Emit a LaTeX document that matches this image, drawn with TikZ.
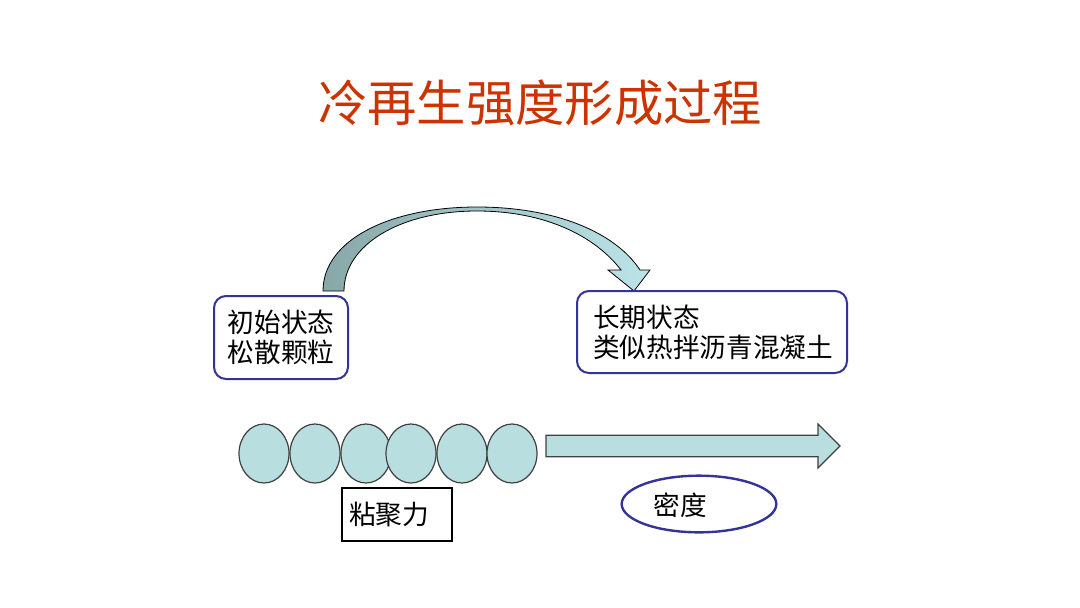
\documentclass[tikz,border=0pt]{standalone}
\usepackage{fontspec}
\setmainfont{Noto Sans CJK SC}
\usetikzlibrary{shapes.geometric,calc}

\definecolor{titlered}{RGB}{204,51,0}
\definecolor{boxblue}{RGB}{51,51,153}
\definecolor{beadfill}{RGB}{184,222,224}
\definecolor{beadline}{RGB}{64,64,64}
\definecolor{arcdark}{RGB}{136,168,168}
\definecolor{arclight}{RGB}{188,228,232}

\tikzset{every picture/.style={line width=0.75pt}}
\tikzset{
  statebox/.style={draw=boxblue, line width=1.5pt, rounded corners=9pt, fill=white,
    font=\fontsize{20}{22.5}\selectfont, align=left, inner sep=0pt},
  bead/.style={ellipse, draw=beadline, fill=beadfill, line width=0.9pt,
    minimum width=37.5pt, minimum height=44.25pt, inner sep=0pt},
  cohbox/.style={draw=black, line width=1.1pt, font=\fontsize{20}{22.5}\selectfont,
    text width=72pt, inner xsep=5.25pt, minimum height=39.75pt, align=left},
  densring/.style={ellipse, draw=boxblue, line width=1.8pt,
    minimum width=116pt, minimum height=42.5pt, inner sep=0pt},
  plaintext/.style={font=\fontsize{20}{22.5}\selectfont, inner sep=0pt}
}

\begin{document}
\begin{tikzpicture}[x=0.75pt,y=0.75pt,yscale=-1,xscale=1]
\useasboundingbox (0,0) rectangle (1080,607);

% Title
\node[text=titlered, font=\fontsize{37}{44}\selectfont, inner sep=0pt] (title) at (540,103) {冷再生强度形成过程};

% Curved Arrow
\path[draw=black, line width=0.6pt, left color=arcdark, right color=arclight]
  (323,291) .. controls (323,240) and (390,207) .. (477,207)
  .. controls (555,207) and (615,232) .. (640,270)
  -- (650,270) -- (634,291) -- (608,270) -- (621,270)
  .. controls (595,236) and (545,211) .. (477,211)
  .. controls (400,211) and (344,245) .. (344,291) -- cycle;

% State Boxes
\node[statebox, minimum width=100.5pt, minimum height=62.25pt, align=center] (start) at (281,337.5) {初始状态\\松散颗粒};
\node[statebox, minimum width=202.5pt, minimum height=61.5pt, text width=178.5pt, inner xsep=12pt] (final) at (712,332) {长期状态\\类似热拌沥青混凝土};

% Beads
\foreach \i/\cx in {1/264, 2/315, 3/366, 4/411, 5/462, 6/512}
  \node[bead] (p\i) at (\cx,453.5) {};

% Block Arrow
\coordinate (dtail) at (546,446);
\coordinate (dtip) at (840,446);
\draw[draw=beadline, line width=0.9pt, fill=beadfill]
  ($(dtail)+(0,-10.8)$) -- (818,435.2) -- (818,424) -- (dtip) -- (818,468)
  -- (818,456.8) -- ($(dtail)+(0,10.8)$) -- cycle;

% Cohesion Box
\node[cohbox] (coh) at (397,514.5) {粘聚力};

% Density
\node[densring] (dens) at (699,504) {};
\node[plaintext] (denstxt) at (680,505) {密度};

\end{tikzpicture}
\end{document}
